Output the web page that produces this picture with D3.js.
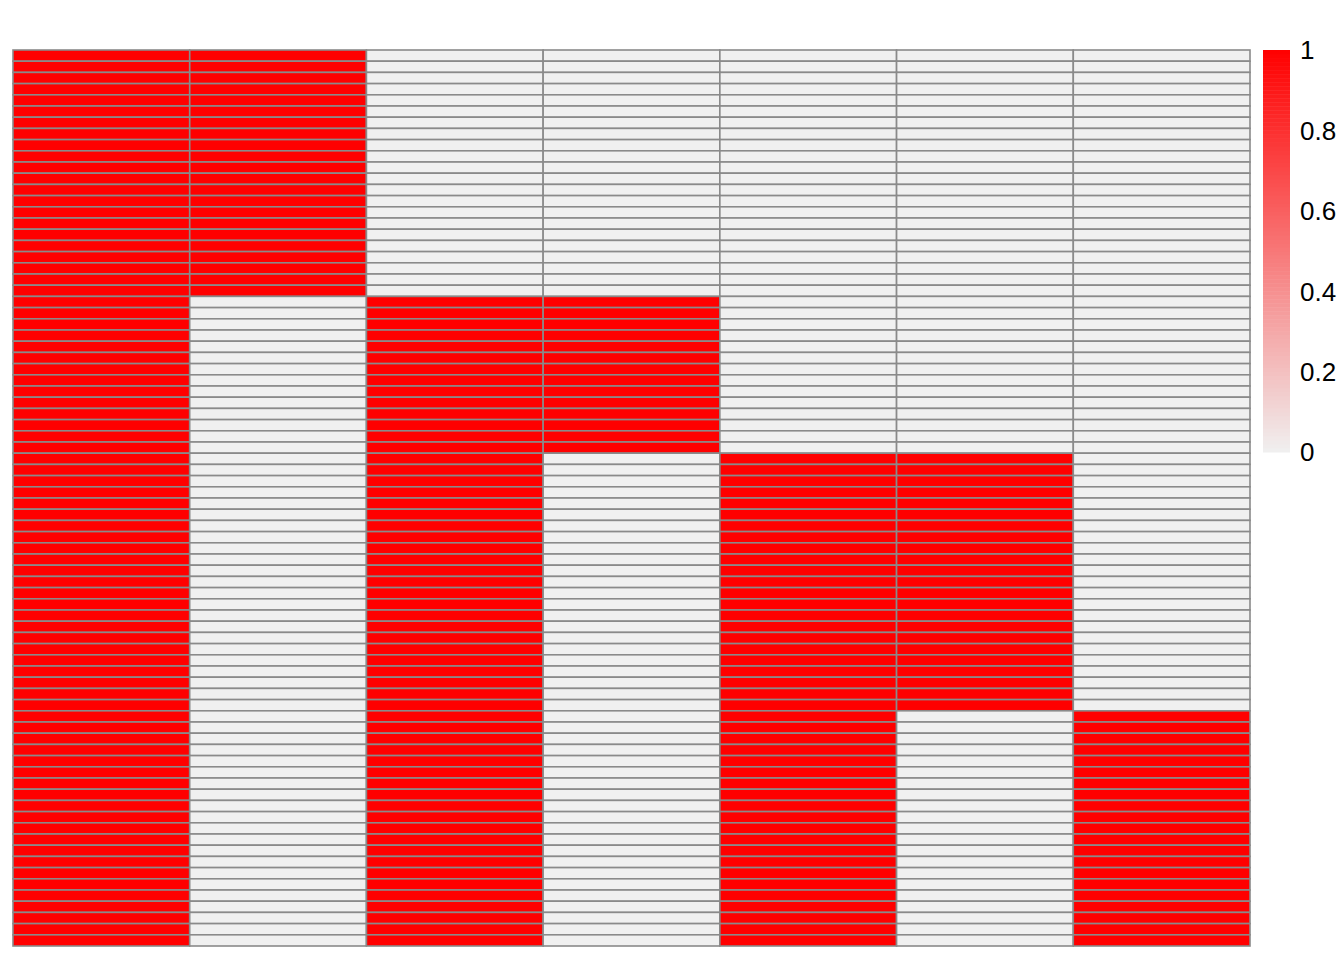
<!DOCTYPE html>
<html>
<head>
<meta charset="utf-8">
<script src="https://cdn.jsdelivr.net/npm/d3@7"></script>
<style>
  html, body { margin: 0; padding: 0; background: #ffffff; }
  svg { display: block; }
</style>
</head>
<body>
<div id="chart"></div>
<script>
// ---- data (each string is one row, columns left to right, 1 = present, 0 = absent)
const columns = ["C1", "C2", "C3", "C4", "C5", "C6", "C7"];
const rows = [
  "1100000","1100000","1100000","1100000","1100000","1100000","1100000","1100000",
  "1100000","1100000","1100000","1100000","1100000","1100000","1100000","1100000",
  "1100000","1100000","1100000","1100000","1100000","1100000",
  "1011000","1011000","1011000","1011000","1011000","1011000","1011000",
  "1011000","1011000","1011000","1011000","1011000","1011000","1011000",
  "1010110","1010110","1010110","1010110","1010110","1010110","1010110","1010110",
  "1010110","1010110","1010110","1010110","1010110","1010110","1010110","1010110",
  "1010110","1010110","1010110","1010110","1010110","1010110","1010110",
  "1010101","1010101","1010101","1010101","1010101","1010101","1010101","1010101",
  "1010101","1010101","1010101","1010101","1010101","1010101","1010101","1010101",
  "1010101","1010101","1010101","1010101","1010101"
];
const legendTicks = [0, 0.2, 0.4, 0.6, 0.8, 1];
const legendTickLabels = ["0", "0.2", "0.4", "0.6", "0.8", "1"];

// ---- layout
const W = 1344, H = 960;
const plot = { left: 13, right: 1250, top: 50, bottom: 946 };
const legend = { x: 1263, w: 27, top: 50, bottom: 452 };

const svg = d3.select("#chart").append("svg")
  .attr("width", W).attr("height", H);

const rowIds = d3.range(rows.length);
const x = d3.scaleBand().domain(columns).range([plot.left, plot.right]);
const y = d3.scaleBand().domain(rowIds).range([plot.top, plot.bottom]);
const color = d3.scaleLinear().domain([0, 1]).range(["#F0F0F0", "#FF0000"]);

const cells = [];
rows.forEach((r, i) => {
  columns.forEach((c, j) => cells.push({ row: i, col: c, value: +r[j] }));
});

svg.append("g").selectAll("rect").data(cells).join("rect")
  .attr("x", d => x(d.col))
  .attr("y", d => y(d.row))
  .attr("width", x.bandwidth())
  .attr("height", y.bandwidth())
  .attr("fill", d => color(d.value))
  .attr("stroke", "#8a8a8a")
  .attr("stroke-width", 1.6);

// ---- legend
const ly = d3.scaleLinear().domain([0, 1]).range([legend.bottom, legend.top]);
const steps = d3.range(0, 100);
svg.append("g").selectAll("rect").data(steps).join("rect")
  .attr("x", legend.x)
  .attr("width", legend.w)
  .attr("y", d => ly((d + 1) / 100))
  .attr("height", d => ly(d / 100) - ly((d + 1) / 100) + 0.5)
  .attr("fill", d => color((d + 0.5) / 100));

svg.append("g").selectAll("text").data(legendTicks).join("text")
  .attr("x", 1300)
  .attr("y", d => ly(d))
  .attr("dy", "0.36em")
  .attr("font-family", "Liberation Sans, Arial, sans-serif")
  .attr("font-size", 26)
  .attr("fill", "#000")
  .text((d, i) => legendTickLabels[i]);
</script>
</body>
</html>
